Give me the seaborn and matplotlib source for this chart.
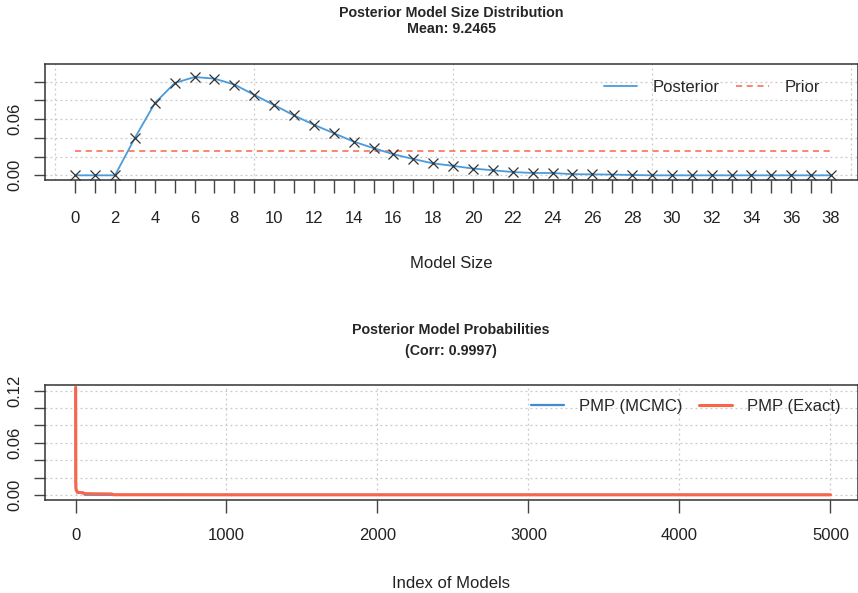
import numpy as np
import pandas as pd
import seaborn as sns
import matplotlib.pyplot as plt
from matplotlib.ticker import FixedLocator, FixedFormatter

# posterior model size distribution
model_sizes = list(range(39))
posterior_size = [0.0, 0.0, 0.0, 0.040, 0.077, 0.0986, 0.105, 0.1033, 0.097, 0.086,
                  0.075, 0.064, 0.054, 0.045, 0.036, 0.029, 0.0225, 0.0174, 0.0127, 0.0101,
                  0.0072, 0.0054, 0.0035, 0.0025, 0.0025, 0.0012, 0.0010, 0.0008, 0.0003, 0.0,
                  0.0, 0.0, 0.0, 0.0, 0.0, 0.0, 0.0, 0.0, 0.0]
prior_x = [0, 38]
prior_size = [0.0256, 0.0256]
mean_size = 9.2465

# posterior model probabilities, sorted models
pmp_index = [1, 2, 3, 5, 15, 50, 60, 120, 240, 250, 1000, 2000, 3000, 4000, 5000]
pmp_exact = [0.124, 0.015, 0.008, 0.0055, 0.003, 0.0026, 0.0016, 0.0014, 0.0012, 0.0003,
             0.0002, 0.0002, 0.0002, 0.0002, 0.0002]
pmp_mcmc = [0.122, 0.014, 0.007, 0.005, 0.0028, 0.0022, 0.0004, 0.0003, 0.0003, 0.0002,
            0.0002, 0.0002, 0.0002, 0.0002, 0.0002]
corr = 0.9997

size_df = pd.DataFrame({'size': model_sizes, 'post': posterior_size})
pmp_df = pd.DataFrame({'idx': pmp_index, 'exact': pmp_exact, 'mcmc': pmp_mcmc})

sns.set_theme(style='white')
plt.rcParams['font.family'] = ['Liberation Sans', 'DejaVu Sans']

W, H = 858, 593
fig = plt.figure(figsize=(W / 100, H / 100), dpi=100)

def px_axes(l, t, r, b):
    return fig.add_axes([l / W, 1 - b / H, (r - l) / W, (b - t) / H])

blue_post = '#4A9BDB'
blue_mcmc = '#3B8ED6'
red = '#FA6448'
grid_kw = dict(color='#C8C8C8', linestyle=(0, (1.5, 2.5)), linewidth=0.9, zorder=0)

def style_axes(ax, yticks, ylabels):
    for s in ax.spines.values():
        s.set_color('#333333')
        s.set_linewidth(1.1)
    ax.yaxis.set_major_locator(FixedLocator(yticks))
    ax.yaxis.set_major_formatter(FixedFormatter(ylabels))
    ax.tick_params(axis='both', direction='out', length=8, width=1.0, color='#444444',
                   labelsize=12, labelcolor='#222222', bottom=True, left=True)
    ax.tick_params(axis='y', labelrotation=90, pad=8)
    for lab in ax.get_yticklabels():
        lab.set_va('center')
    for y in yticks:
        ax.axhline(y, **grid_kw)

# ---------------- top panel ----------------
ax1 = px_axes(45, 64.3, 857.5, 180)
sns.lineplot(data=size_df, x='size', y='post', ax=ax1, color=blue_post, linewidth=1.3,
             label='Posterior', zorder=3)
sns.lineplot(x=prior_x, y=prior_size, ax=ax1, color=red, linewidth=1.1,
             linestyle=(0, (4, 3)), label='Prior', zorder=2)
ax1.plot(model_sizes, posterior_size, linestyle='none', marker='x', markersize=6.5,
         markeredgewidth=0.9, color='#333333', zorder=4)
ax1.set_xlim(-1.52, 39.33)
ax1.set_ylim(-0.005, 0.1186)
y1 = [0.0, 0.02, 0.04, 0.06, 0.08, 0.10]
style_axes(ax1, y1, ['0.00', '', '', '0.06', '', ''])
ax1.set_xticks(model_sizes)
ax1.set_xticklabels([str(s) if s % 2 == 0 else '' for s in model_sizes])
ax1.tick_params(axis='x', length=9, pad=13)
for x in [-1, 9, 19, 29, 39]:
    ax1.axvline(x, **grid_kw)
ax1.set_xlabel('Model Size', fontsize=12, labelpad=22, color='#222222')
ax1.set_ylabel('')
h, l = ax1.get_legend_handles_labels()
ax1.legend(h, l, loc='center right', bbox_to_anchor=(0.964, 0.797), ncol=2, frameon=False,
           fontsize=12, handlelength=2.0, handletextpad=0.9, columnspacing=1.0, borderpad=0)
fig.text((45 + 857.5) / 2 / W, 1 - 13 / H, 'Posterior Model Size Distribution',
         ha='center', va='center', fontsize=10.3, fontweight='bold')
fig.text((45 + 857.5) / 2 / W, 1 - 29 / H, f'Mean: {mean_size}',
         ha='center', va='center', fontsize=10.3, fontweight='bold')

# ---------------- bottom panel ----------------
ax2 = px_axes(45, 385, 857.5, 500)
sns.lineplot(data=pmp_df, x='idx', y='mcmc', ax=ax2, color=blue_mcmc, linewidth=1.6,
             label='PMP (MCMC)', zorder=2)
sns.lineplot(data=pmp_df, x='idx', y='exact', ax=ax2, color=red, linewidth=2.2,
             label='PMP (Exact)', zorder=3)
ax2.set_xlim(-202, 5179)
ax2.set_ylim(-0.00575, 0.1266)
y2 = [0.0, 0.02, 0.04, 0.06, 0.08, 0.10, 0.12]
style_axes(ax2, y2, ['0.00', '', '', '0.06', '', '', '0.12'])
x2 = [0, 1000, 2000, 3000, 4000, 5000]
ax2.set_xticks(x2)
ax2.set_xticklabels([str(v) for v in x2])
ax2.tick_params(axis='x', length=9, pad=11)
for x in x2:
    ax2.axvline(x, **grid_kw)
ax2.set_xlabel('Index of Models', fontsize=12, labelpad=24, color='#222222')
ax2.set_ylabel('')
h, l = ax2.get_legend_handles_labels()
ax2.legend(h, l, loc='center right', bbox_to_anchor=(0.99, 0.811), ncol=2, frameon=False,
           fontsize=12, handlelength=2.0, handletextpad=0.9, columnspacing=1.0, borderpad=0)
fig.text((45 + 857.5) / 2 / W, 1 - 330 / H, 'Posterior Model Probabilities',
         ha='center', va='center', fontsize=10.3, fontweight='bold')
fig.text((45 + 857.5) / 2 / W, 1 - 351 / H, f'(Corr: {corr})',
         ha='center', va='center', fontsize=10.3, fontweight='bold')

fig.savefig('out.png', dpi=100)
